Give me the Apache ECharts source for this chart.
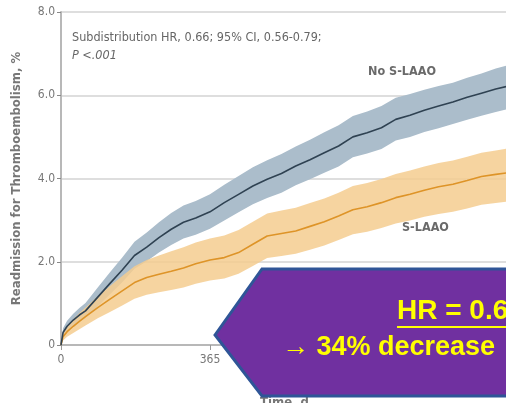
<!DOCTYPE html>
<html><head><meta charset="utf-8">
<script src="https://cdn.jsdelivr.net/npm/echarts@6/dist/echarts.min.js"></script>
<style>html,body{margin:0;padding:0;background:#fff}#c{width:506px;height:403px}</style>
</head><body><div id="c"></div>
<script>
const days = [0,5,15,30,45,60,90,120,150,180,210,240,270,300,330,365,400,435,470,505,540,575,610,645,680,715,750,785,820,855,890,925,960,995,1030,1065,1095];
const noLine  = [0,0.30,0.45,0.60,0.72,0.82,1.15,1.48,1.80,2.15,2.35,2.58,2.78,2.95,3.05,3.20,3.42,3.62,3.82,3.98,4.12,4.30,4.45,4.62,4.78,5.00,5.10,5.22,5.42,5.52,5.64,5.74,5.84,5.95,6.05,6.15,6.22];
const noUpper = [0,0.40,0.58,0.75,0.89,1.01,1.38,1.75,2.10,2.48,2.70,2.95,3.17,3.35,3.46,3.62,3.85,4.06,4.27,4.44,4.59,4.77,4.93,5.11,5.28,5.50,5.61,5.74,5.94,6.03,6.13,6.22,6.30,6.42,6.52,6.64,6.72];
const noLower = [0,0.21,0.33,0.46,0.56,0.64,0.93,1.22,1.51,1.83,2.01,2.22,2.40,2.56,2.65,2.79,2.99,3.19,3.38,3.53,3.66,3.84,3.98,4.14,4.29,4.51,4.60,4.71,4.91,5.00,5.12,5.21,5.31,5.41,5.51,5.60,5.67];
const sLine   = [0,0.20,0.32,0.45,0.57,0.68,0.90,1.10,1.30,1.50,1.62,1.70,1.77,1.85,1.95,2.04,2.10,2.22,2.42,2.62,2.68,2.74,2.85,2.96,3.10,3.25,3.32,3.42,3.54,3.62,3.72,3.80,3.86,3.95,4.05,4.10,4.14];
const sUpper  = [0,0.30,0.45,0.62,0.77,0.90,1.17,1.42,1.66,1.89,2.04,2.15,2.25,2.35,2.46,2.56,2.63,2.76,2.96,3.16,3.23,3.30,3.41,3.52,3.66,3.82,3.89,3.99,4.11,4.19,4.29,4.37,4.43,4.52,4.62,4.67,4.72];
const sLower  = [0,0.11,0.20,0.29,0.38,0.47,0.64,0.79,0.95,1.11,1.21,1.27,1.32,1.38,1.47,1.55,1.60,1.71,1.90,2.09,2.14,2.19,2.29,2.39,2.52,2.66,2.72,2.81,2.92,2.99,3.08,3.15,3.20,3.28,3.37,3.41,3.45];
const yTickLabels = {0:"0",2:"2.0",4:"4.0",6:"6.0",8:"8.0"};
const xTickLabels = {0:"0",365:"365",730:"730",1095:"1095"};
const seriesNames = ["No S-LAAO","S-LAAO"];
const noteLine1 = "Subdistribution HR, 0.66; 95% CI, 0.56-0.79;";
const noteLine2 = "P <.001";
const boxLine1 = "HR = 0.66";
const boxLine2 = "\u2192 34% decrease";

const pairs = (ys) => days.map((d,i)=>[d, ys[i]]);
const F = '"Liberation Sans Narrow","DejaVu Sans Condensed",sans-serif';
const band = (name, lower, upper, color, op, z) => ({
  type:'custom', name:name+' 95% CI', silent:true, z:z,
  data: days.map((d,i)=>[d, lower[i], upper[i]]),
  encode:{x:0, y:[1,2]},
  renderItem:(params, api) => {
    if (params.dataIndex !== 0) return null;
    const top = [], bot = [];
    for (let i=0;i<days.length;i++){
      top.push(api.coord([days[i], upper[i]]));
      bot.push(api.coord([days[i], lower[i]]));
    }
    return {type:'polygon', shape:{points: top.concat(bot.reverse())}, style:{fill:color, opacity:op}};
  }
});

const chart = echarts.init(document.getElementById('c'), null, {renderer:'canvas'});
chart.setOption({
  animation:false,
  grid:{left:61, top:12, right:-2, bottom:58, containLabel:false, outerBoundsMode:'none'},
  xAxis:{type:'value', min:0, max:1095, interval:365,
    name:'Time, d', nameLocation:'middle', nameGap:51,
    nameTextStyle:{fontFamily:F, fontSize:13, color:'#777', fontWeight:'bold'},
    axisLine:{lineStyle:{color:'#b8b8b8', width:2}},
    axisTick:{show:true, length:5, lineStyle:{color:'#999', width:1}},
    axisLabel:{formatter:v=>xTickLabels[v] ?? '', fontFamily:F, fontSize:12, color:'#777', margin:9},
    splitLine:{show:false}},
  yAxis:{type:'value', min:0, max:8, interval:2,
    name:'Readmission for Thromboembolism, %', nameLocation:'middle', nameGap:38, nameRotate:90,
    nameTextStyle:{fontFamily:F, fontSize:13, color:'#777', fontWeight:'bold'},
    axisLine:{show:true, lineStyle:{color:'#b8b8b8', width:2}},
    axisTick:{show:true, length:4, lineStyle:{color:'#888', width:1}},
    axisLabel:{formatter:v=>yTickLabels[v] ?? '', fontFamily:F, fontSize:12, color:'#777', margin:6},
    splitLine:{show:true, lineStyle:{color:'#dedede', width:2}}},
  series:[
    band(seriesNames[0], noLower, noUpper, '#abbdcb', 1, 1),
    band(seriesNames[1], sLower, sUpper, '#f5cc8f', 0.85, 2),
    {type:'line', name:seriesNames[1], data:pairs(sLine), symbol:'none', lineStyle:{color:'#de9428', width:1.6}, z:3},
    {type:'line', name:seriesNames[0], data:pairs(noLine), symbol:'none', lineStyle:{color:'#2f4252', width:1.6}, z:4}
  ],
  graphic:[
    {type:'text', left:72, top:31, z:10, style:{text:noteLine1, font:'12.5px '+F, fill:'#666'}},
    {type:'text', left:72, top:49, z:10, style:{text:noteLine2, font:'italic 12.5px '+F, fill:'#666'}},
    {type:'text', left:368, top:65, z:10, style:{text:seriesNames[0], font:'bold 12.5px '+F, fill:'#6a6a6a'}},
    {type:'text', left:402, top:221, z:10, style:{text:seriesNames[1], font:'bold 12.5px '+F, fill:'#6a6a6a'}},
    {type:'polygon', z:20, shape:{points:[[215,335],[262,269],[520,269],[520,396],[262,396]]},
      style:{fill:'#7030a0', stroke:'#2f5597', lineWidth:3}},
    {type:'text', left:397, top:297, z:21, style:{text:boxLine1, font:'bold 28px "Liberation Sans Narrow",sans-serif', fill:'#ffff00'}},
    {type:'line', z:21, shape:{x1:397, y1:327, x2:520, y2:327}, style:{stroke:'#ffff00', lineWidth:2}},
    {type:'text', left:282, top:334, z:21, style:{text:boxLine2, font:'bold 27px "Liberation Sans Narrow",sans-serif', fill:'#ffff00'}}
  ]
});
</script></body></html>
